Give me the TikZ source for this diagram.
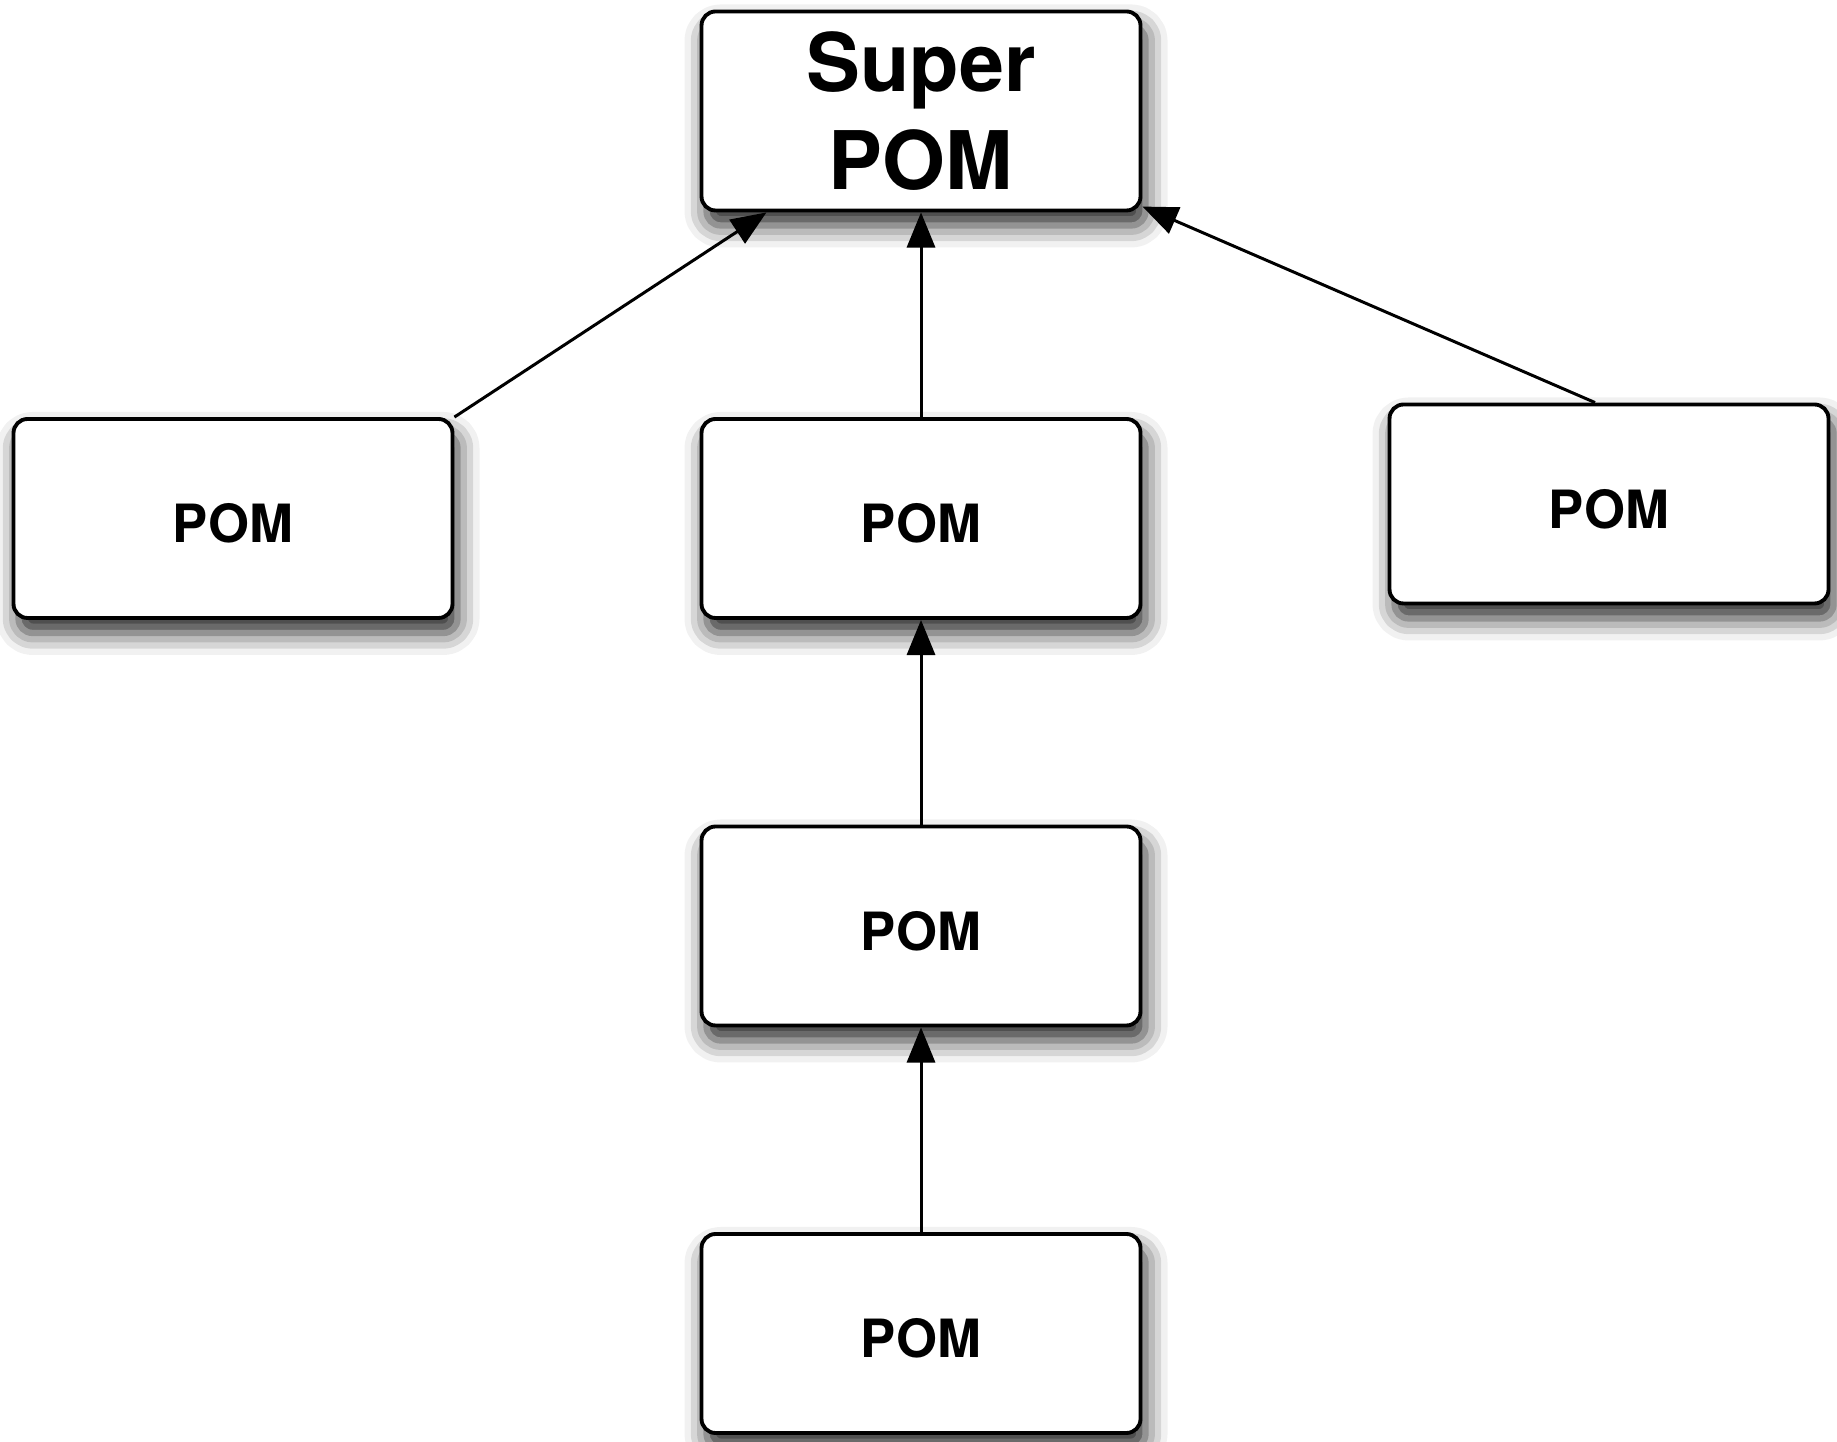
\documentclass[tikz,border=0pt]{standalone}
\usepackage{fontspec}
\setmainfont{TeX Gyre Heros}
\usepackage{tikz}
\usetikzlibrary{arrows.meta,shadows.blur}
\tikzset{pombox/.style={draw, line width=1.1pt, rounded corners=4pt, fill=white,
    minimum width=4.39cm, minimum height=1.99cm, align=center,
    font=\bfseries\fontsize{15}{18}\selectfont,
    blur shadow={shadow xshift=0.5mm, shadow yshift=-1.5mm, shadow blur radius=2.2mm, shadow opacity=85}},
  pom/.style={pombox, text height=14pt},
  parent/.style={-{Triangle[length=10pt,width=8pt]}, line width=0.85pt}}
\begin{document}
\begin{tikzpicture}
   \useasboundingbox (0,0) rectangle (18.37,14.41);
   \node[pombox, font=\bfseries\fontsize{23}{28}\selectfont, yshift=0pt] (super) at (9.21,13.30) {Super\\POM};
   \node[pom] (lpom) at (2.33,9.225) {POM};
   \node[pom] (mpom) at (9.21,9.225) {POM};
   \node[pom] (rpom) at (16.09,9.37) {POM};
   \node[pom] (cpom) at (9.21,5.15) {POM};
   \node[pom] (bpom) at (9.21,1.075) {POM};
   \coordinate (rtop) at ([xshift=-1.4mm]rpom.north);
   % inheritance
   \draw[parent] (lpom.north east) -- (super);
   \draw[parent] (mpom) -- (super);
   \draw[parent] (rtop) -- (super);
   \draw[parent] (cpom) -- (mpom);
   \draw[parent] (bpom) -- (cpom);
\end{tikzpicture}
\end{document}
